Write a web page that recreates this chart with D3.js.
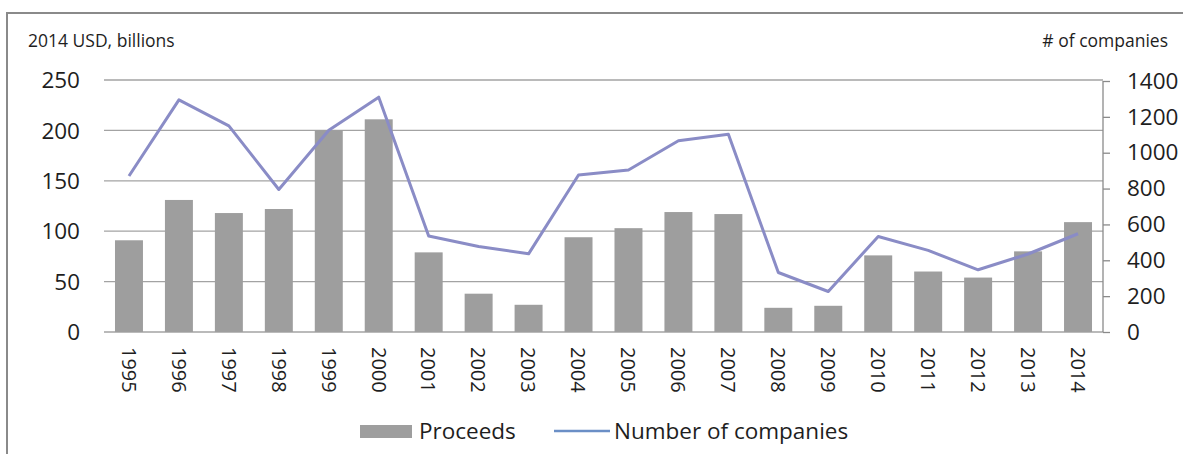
<!DOCTYPE html>
<html>
<head>
<meta charset="utf-8">
<script src="https://cdn.jsdelivr.net/npm/d3@7"></script>
<style>
	body { margin:0; background:#fff; }
	svg text { font-family:"Open Sans", "DejaVu Sans", sans-serif; fill:#1e1e1e; }
</style>
</head>
<body>
<svg id="chart" width="1188" height="454"></svg>
<script>
// values
var years = ['1995','1996','1997','1998','1999','2000','2001','2002','2003','2004',
	'2005','2006','2007','2008','2009','2010','2011','2012','2013','2014'];
var proceeds = [91,131,118,122,200,211,79,38,27,94,103,119,117,24,26,76,60,54,80,109];
var companies = [870,1295,1150,795,1125,1310,535,477,436,876,904,1067,1103,332,226,533,455,347,435,548];
var leftTicks = [0,50,100,150,200,250];
var rightTicks = [0,200,400,600,800,1000,1200,1400];

var barColor = '#9e9e9e', lineColor = '#8a8cc6', gridColor = '#a3a3a3';

var svg = d3.select('#chart');
var left = 104, right = 1103, top_ = 80, bottom = 332;

var x = d3.scaleBand().domain(years).range([left, right]).paddingInner(0.44).paddingOuter(0.22);
var yL = d3.scaleLinear().domain([0, 250]).range([bottom, top_]);
var yR = d3.scaleLinear().domain([0, 1400]).range([bottom, top_ + 1]);

// frame (only top and left edges show in the picture)
svg.append('path').attr('d', 'M7,454 V13 H1183')
	.attr('fill', 'none').attr('stroke', '#8a8a8a').attr('stroke-width', 2);

// gridlines
svg.append('g').selectAll('line').data(leftTicks).enter().append('line')
	.attr('x1', left).attr('x2', right)
	.attr('y1', function(d) { return yL(d); }).attr('y2', function(d) { return yL(d); })
	.attr('stroke', gridColor).attr('stroke-width', 1.3);

// left labels
svg.append('g').selectAll('text').data(leftTicks).enter().append('text')
	.attr('x', 80).attr('y', function(d) { return yL(d); })
	.attr('dy', '0.36em').attr('text-anchor', 'end')
	.style('font-size', '22.5px').text(function(d) { return d; });

// bars
svg.append('g').selectAll('rect').data(proceeds).enter().append('rect')
	.attr('x', function(d, i) { return x(years[i]); })
	.attr('width', x.bandwidth())
	.attr('y', function(d) { return yL(d); })
	.attr('height', function(d) { return yL(0) - yL(d); })
	.attr('fill', barColor);

// company count line
var line = d3.line()
	.x(function(d, i) { return x(years[i]) + x.bandwidth() / 2; })
	.y(function(d) { return yR(d); });
svg.append('path').datum(companies).attr('d', line)
	.attr('fill', 'none').attr('stroke', lineColor).attr('stroke-width', 3)
	.attr('stroke-linejoin', 'round');

// right axis
var axisR = d3.axisRight(yR).tickValues(rightTicks).tickFormat(d3.format('d')).tickSize(7).tickPadding(17);
var gR = svg.append('g').attr('transform', 'translate(' + right + ',0)').call(axisR);
gR.select('.domain').attr('stroke', '#8a8a8a').attr('stroke-width', 1.3).attr('d', 'M0,' + yR(1400) + 'V' + bottom);
gR.selectAll('.tick line').attr('stroke', '#8a8a8a').attr('stroke-width', 1.3);
gR.selectAll('.tick text').style('font-size', '22.5px').attr('fill', '#1e1e1e')
	.style('font-family', '"Open Sans", sans-serif');

// year labels, rotated to read downwards
svg.append('g').selectAll('text').data(years).enter().append('text')
	.attr('transform', function(d) {
		return 'translate(' + (x(d) + x.bandwidth() / 2) + ',347) rotate(90)';
	})
	.attr('dy', '0.36em').style('font-size', '20px').text(function(d) { return d; });

// axis titles
svg.append('text').attr('x', 28).attr('y', 47).style('font-size', '17.5px').text('2014 USD, billions');
svg.append('text').attr('x', 1168).attr('y', 47).attr('text-anchor', 'end')
	.style('font-size', '17.5px').text('# of companies');

// legend
var lg = svg.append('g');
lg.append('rect').attr('x', 360).attr('y', 425).attr('width', 52).attr('height', 13).attr('fill', barColor);
lg.append('text').attr('x', 419).attr('y', 439).style('font-size', '22.5px').text('Proceeds');
lg.append('line').attr('x1', 554).attr('x2', 610).attr('y1', 431).attr('y2', 431)
	.attr('stroke', '#6b8fc6').attr('stroke-width', 2.5);
lg.append('text').attr('x', 614).attr('y', 439).style('font-size', '22.5px').text('Number of companies');
</script>
</body>
</html>
